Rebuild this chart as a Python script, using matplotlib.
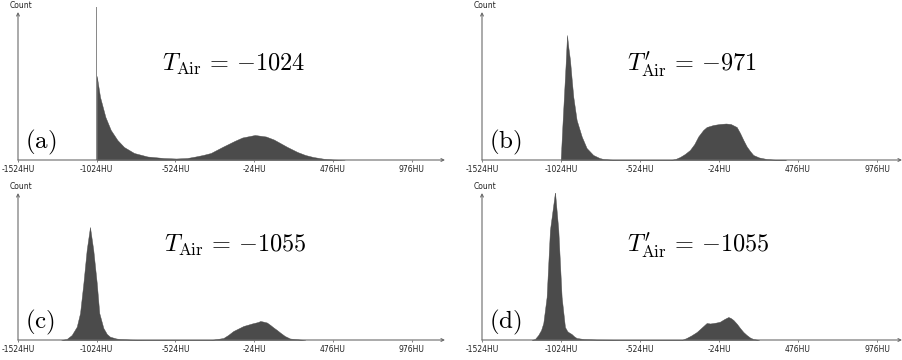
import matplotlib
matplotlib.use('Agg')
import matplotlib.pyplot as plt

plt.rcParams['mathtext.fontset'] = 'cm'

# tick positions (HU)
tick_hu = [-1524, -1024, -524, -24, 476, 976]
tick_labels = ['-1524HU', '-1024HU', '-524HU', '-24HU', '476HU', '976HU']

# (a) spike at -1024 plus tail and soft tissue bump
spike_hu = -1024
spike_count = 153
a_hu = [-1024, -1003, -969, -935, -893, -851, -787, -702, -600, -520, -450, -400, -350,
        -300, -227, -150, -100, -20, 50, 100, 186, 250, 300, 350, 420, 476, 550]
a_count = [84, 63, 43, 30, 20, 13, 7, 3.5, 2, 1.5, 2, 3.4, 5,
           7, 13, 19, 22.5, 25, 23.5, 20.5, 13, 8, 5, 3, 1.2, 0.5, 0]

# (b)
b_hu = [-1026, -1015, -1005, -995, -986, -977, -967, -956, -946, -925, -893, -862, -820,
        -780, -756, -700, -650,
        -330, -300, -271, -240, -208, -180, -155, -124, -102, -60, -20, 20, 50, 88, 109,
        130, 151, 172, 193, 230, 278, 330, 400]
b_count = [0, 35, 65, 95, 125, 112, 100, 80, 63, 40, 23.5, 12, 5,
           2, 1, 0.3, 0,
           0, 1, 3, 6, 10, 16, 23.6, 30, 33, 35, 36, 36.5, 36, 33, 27,
           20, 13.6, 9, 5, 2.5, 1, 0.3, 0]

# (c)
c_hu = [-1250, -1215, -1183, -1151, -1130, -1109, -1088, -1067, -1046, -1024, -1008, -982,
        -960, -940, -900, -876, -800, -700,
        -300, -260, -220, -190, -157, -125, -93, -60, -39, 0, 14, 30, 56, 78, 98, 120,
        140, 170, 203, 266, 300]
c_count = [0, 1, 5, 13.3, 27, 56.7, 90, 113, 90, 57, 27, 12,
           6, 3.3, 1.5, 1, 0.4, 0,
           0, 1, 2, 5, 9, 11.5, 14, 15.5, 16.5, 18, 19, 18.5, 17.5, 15, 12.5, 10,
           7.5, 4, 1.5, 0.5, 0]

# (d)
d_hu = [-1210, -1189, -1168, -1150, -1136, -1115, -1094, -1062, -1041, -1020, -999, -985,
        -978, -957, -940, -925, -880, -800, -700, -650,
        -260, -230, -200, -165, -130, -102, -80, -60, -40, -18, 10, 35, 50, 67, 90, 109,
        130, 151, 172, 193, 230]
d_count = [0, 1, 5, 10, 17, 43, 110, 148, 110, 43, 13, 9,
           8, 6, 3.5, 2, 1, 0.5, 0.3, 0,
           0, 2, 4.5, 8, 13, 17, 16.5, 17, 17.5, 18.3, 21, 23, 22, 20, 16, 12,
           8, 5, 2.5, 1, 0]

panel_names = ['(a)', '(b)', '(c)', '(d)']
thresholds = [r'$T_{\rm Air}\,=\,{-1024}$', r'$T_{\rm Air}^{\prime}\,=\,{-971}$',
              r'$T_{\rm Air}\,=\,{-1055}$', r'$T_{\rm Air}^{\prime}\,=\,{-1055}$']

W, H = 903, 360
fill_color = '#4b4b4b'
axis_color = '#6a6a6a'

fig = plt.figure(figsize=(W / 100, H / 100), dpi=100)

# axes boxes in pixels: left, baseline y, width, height, px per HU
boxes = [(18, 160, 427, 148, 0.1575), (482, 160, 420, 148, 0.158),
         (18, 340, 427, 147, 0.1575), (482, 340, 420, 147, 0.158)]
series = [(a_hu, a_count), (b_hu, b_count), (c_hu, c_count), (d_hu, d_count)]

for i, (left, base, w, h, scale) in enumerate(boxes):
    ax = fig.add_axes([left / W, (H - base) / H, w / W, h / H])
    ax.set_xlim(-1524, -1524 + w / scale)
    ax.set_ylim(0, h)
    for s in ax.spines.values():
        s.set_visible(False)
    hu, cnt = series[i]
    ax.fill_between(hu, 0, cnt, color=fill_color, linewidth=0.3, edgecolor=fill_color)
    if i == 0:
        ax.bar([spike_hu], [spike_count], width=5, color='#8a8a8a', clip_on=False)

    # axis arrows
    ax.annotate('', xy=(1, 0), xytext=(0, 0), xycoords='axes fraction',
                arrowprops=dict(arrowstyle='->', color=axis_color, lw=0.8,
                                shrinkA=0, shrinkB=0, mutation_scale=5))
    ax.annotate('', xy=(0, 1), xytext=(0, 0), xycoords='axes fraction',
                arrowprops=dict(arrowstyle='->', color=axis_color, lw=0.8,
                                shrinkA=0, shrinkB=0, mutation_scale=5))

    ax.set_xticks(tick_hu)
    ax.set_xticklabels(tick_labels, fontsize=5.5, color='#222222')
    ax.tick_params(axis='x', length=1.5, width=0.6, color=axis_color, pad=2)
    ax.set_yticks([])

    # Count label above y axis
    fig.text((left + 3) / W, 1 - (base - h - 7) / H, 'Count', fontsize=5.5,
             ha='center', va='center', color='#222222')

    # panel name
    fig.text((left + 7) / W, 1 - (base - 12) / H, r'$\mathrm{' + panel_names[i] + '}$',
             fontsize=18, ha='left', va='baseline')

tx = [162, 627, 164, 627]
ty = [71, 71, 252, 252]
for i in range(4):
    fig.text(tx[i] / W, 1 - ty[i] / H, thresholds[i], fontsize=17.5,
             ha='left', va='baseline')

fig.savefig('out.png', dpi=100)
